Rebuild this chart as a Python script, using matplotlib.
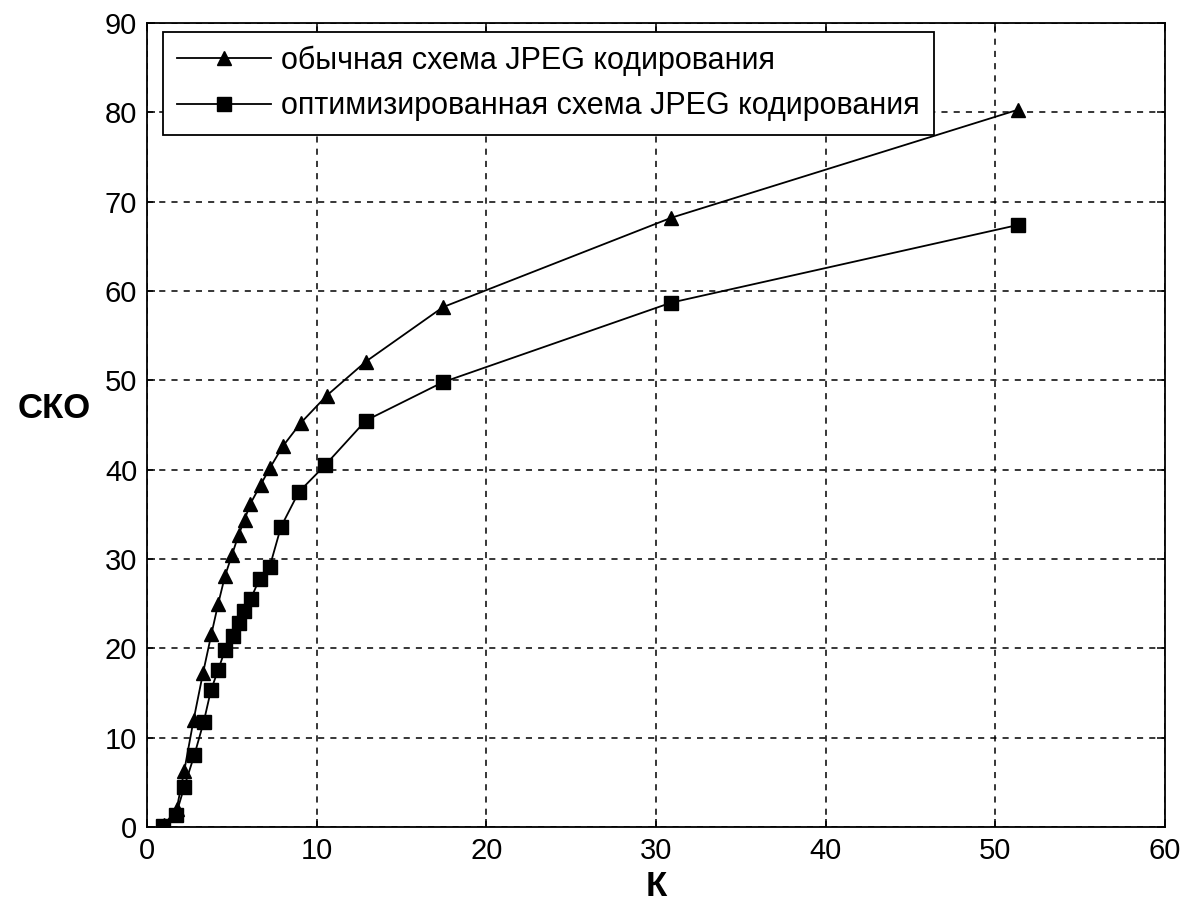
import matplotlib
matplotlib.use('Agg')
import matplotlib.pyplot as plt

plt.rcParams['font.family'] = ['Liberation Sans', 'DejaVu Sans']

# обычная схема JPEG
k_usual = [1.0, 1.75, 2.2, 2.75, 3.3, 3.8, 4.2, 4.6, 5.0, 5.4, 5.75, 6.1,
           6.7, 7.25, 8.0, 9.05, 10.6, 12.9, 17.45, 30.9, 51.35]
sko_usual = [0.2, 2.0, 6.3, 12.0, 17.2, 21.6, 25.0, 28.1, 30.4, 32.7, 34.4, 36.2,
             38.3, 40.2, 42.6, 45.2, 48.3, 52.1, 58.2, 68.2, 80.3]

# оптимизированная схема JPEG
k_opt = [0.96, 1.7, 2.2, 2.8, 3.35, 3.77, 4.2, 4.6, 5.07, 5.44, 5.74, 6.11,
         6.64, 7.23, 7.9, 8.95, 10.5, 12.9, 17.45, 30.9, 51.35]
sko_opt = [0.1, 1.3, 4.5, 8.1, 11.8, 15.3, 17.6, 19.8, 21.4, 22.8, 24.2, 25.5,
           27.8, 29.1, 33.6, 37.5, 40.5, 45.5, 49.8, 58.7, 67.4]

labels = ['обычная схема JPEG кодирования',
          'оптимизированная схема JPEG кодирования']

fig = plt.figure(figsize=(11.88, 9.14), dpi=100)
ax = fig.add_axes([0.1237, 0.0952, 0.9806 - 0.1237, 0.9748 - 0.0952])

ax.plot(k_usual, sko_usual, '-^', color='black', lw=1.3, ms=10, label=labels[0])
ax.plot(k_opt, sko_opt, '-s', color='black', lw=1.3, ms=10.5, label=labels[1])

ax.set_xlim(0, 60)
ax.set_ylim(0, 90)
ax.set_xticks(range(0, 61, 10))
ax.set_yticks(range(0, 91, 10))
ax.grid(True, color='black', lw=1.1, linestyle=(0, (4, 4)))
ax.tick_params(direction='in', length=6, width=1.1, top=True, right=True,
               labelsize=21, pad=7)
for s in ax.spines.values():
    s.set_linewidth(1.3)

ax.set_xlabel('К', fontsize=25, fontweight='bold', labelpad=4)
ax.set_ylabel('СКО', fontsize=25, fontweight='bold', rotation=0)
ax.yaxis.set_label_coords(-0.091, 0.5)

leg = ax.legend(loc='upper left', bbox_to_anchor=(0.0157, 0.9888),
                borderaxespad=0, fontsize=22, handlelength=3.1,
                handletextpad=0.33, labelspacing=0.5, borderpad=0.45,
                fancybox=False, framealpha=1, edgecolor='black')
leg.get_frame().set_linewidth(1.3)

fig.savefig('out.png', dpi=100, facecolor='white')
